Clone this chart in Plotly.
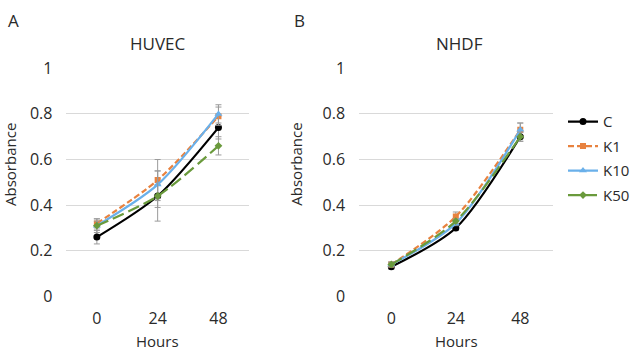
import plotly.graph_objects as go

hours = [0, 24, 48]
series = ["C", "K1", "K10", "K50"]

huvec = {
    "C":   [0.26, 0.44, 0.74],
    "K1":  [0.32, 0.51, 0.79],
    "K10": [0.31, 0.49, 0.80],
    "K50": [0.31, 0.44, 0.66],
}
huvec_err = {
    "C":   [0.03, 0.05, 0.05],
    "K1":  [0.02, 0.09, 0.04],
    "K10": [0.03, 0.06, 0.04],
    "K50": [0.02, 0.11, 0.04],
}
nhdf = {
    "C":   [0.13, 0.30, 0.70],
    "K1":  [0.14, 0.35, 0.73],
    "K10": [0.14, 0.32, 0.73],
    "K50": [0.14, 0.33, 0.70],
}
nhdf_err = {
    "C":   [0.01, 0.01, 0.02],
    "K1":  [0.01, 0.02, 0.03],
    "K10": [0.01, 0.01, 0.03],
    "K50": [0.01, 0.01, 0.02],
}

styles = {
    "C":   dict(color="#000000", dash="solid", symbol="circle", msize=7),
    "K1":  dict(color="#E8823F", dash="6px,3px", symbol="square", msize=6),
    "K10": dict(color="#6AB0EA", dash="solid", symbol="triangle-up", msize=7),
    "K50": dict(color="#6A9A3C", dash="12px,5px", symbol="diamond", msize=6),
}

FONT = "Open Sans, Liberation Sans, Arial, sans-serif"
TXT = "#2a2a2a"
fig = go.Figure()

for panel, (data, err, xa, ya) in enumerate([(huvec, huvec_err, "x", "y"),
                                             (nhdf, nhdf_err, "x2", "y2")]):
    for name in series:
        s = styles[name]
        fig.add_trace(go.Scatter(
            x=hours, y=data[name], name=name, xaxis=xa, yaxis=ya,
            mode="lines+markers",
            line=dict(color=s["color"], width=2.2, dash=s["dash"], shape="spline", smoothing=0.8),
            marker=dict(color=s["color"], symbol=s["symbol"], size=s["msize"]),
            error_y=dict(type="data", array=err[name], color="#9a9a9a", thickness=1, width=3),
            showlegend=(panel == 1), legendgroup=name,
        ))

axis_common = dict(
    range=[-12, 60], tickvals=hours, ticktext=[str(h) for h in hours],
    showgrid=False, zeroline=False, showline=False, ticks="",
    tickfont=dict(size=16, color=TXT), ticklabelstandoff=11,
)
yaxis_common = dict(
    range=[0, 1], tickvals=[0, 0.2, 0.4, 0.6, 0.8, 1.0],
    ticktext=["0", "0.2", "0.4", "0.6", "0.8", "1"],
    showgrid=True, gridcolor="#d9d9d9", gridwidth=1, zeroline=False,
    showline=False, ticks="", tickfont=dict(size=16, color=TXT), ticklabelstandoff=13,
)

fig.update_layout(
    width=635, height=360,
    margin=dict(l=0, r=0, t=0, b=0),
    paper_bgcolor="white", plot_bgcolor="white",
    font=dict(family=FONT, color=TXT),
    xaxis=dict(domain=[0.1055, 0.395], anchor="y", **axis_common),
    yaxis=dict(domain=[0.1556, 0.8306], anchor="x", **yaxis_common),
    xaxis2=dict(domain=[0.570, 0.877], anchor="y2", **axis_common),
    yaxis2=dict(domain=[0.1556, 0.8306], anchor="x2", **yaxis_common),
    legend=dict(x=0.894, y=0.721, xanchor="left", yanchor="top",
                font=dict(size=15, color=TXT), tracegroupgap=2,
                bgcolor="rgba(0,0,0,0)", itemwidth=30),
)

ann = [
    dict(text="A", x=14, y=10, size=17),
    dict(text="B", x=302, y=10, size=17),
    dict(text="HUVEC", x=159, y=35, size=17),
    dict(text="NHDF", x=463, y=35, size=17),
    dict(text="Hours", x=159, y=352),
    dict(text="Hours", x=460, y=352),
]
for a in ann:
    fig.add_annotation(text=a["text"], x=a["x"] / 635, y=1 - a["y"] / 360,
                       xref="paper", yref="paper", showarrow=False,
                       xanchor="center", yanchor="middle",
                       font=dict(size=a.get("size", 15), color=TXT))
for xp in [10, 298]:
    fig.add_annotation(text="Absorbance", x=xp / 635, y=1 - 163 / 360,
                       xref="paper", yref="paper", showarrow=False, textangle=-90,
                       xanchor="center", yanchor="middle",
                       font=dict(size=15, color=TXT))

fig.write_html("out.html", config={"displayModeBar": False},
               post_script="document.body.style.margin='0';")
